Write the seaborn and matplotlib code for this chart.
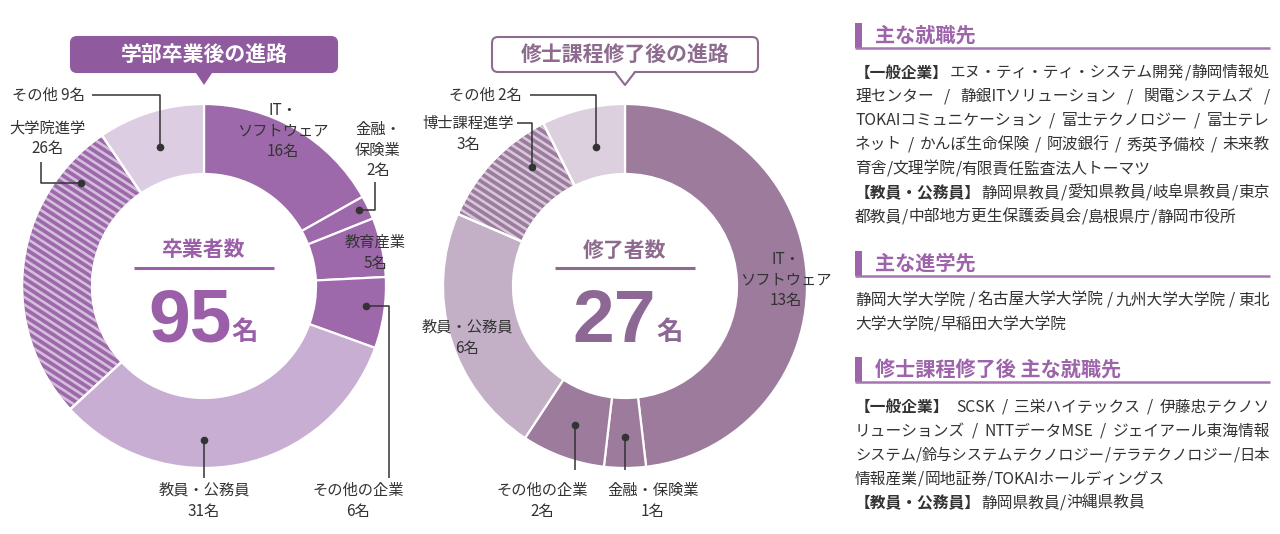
import re
import numpy as np
import matplotlib
matplotlib.use('Agg')
import matplotlib.pyplot as plt
import matplotlib.patches as mpatches
from matplotlib.collections import LineCollection
from matplotlib import font_manager
import seaborn as sns

sns.set_theme(style='white')
plt.rcParams['font.family'] = ['Noto Sans CJK JP', 'DejaVu Sans']

W, H = 1280, 534

## data
ug_labels = ['IT・\nソフトウェア', '金融・\n保険業', '教育産業', 'その他の企業', '教員・公務員', '大学院進学', 'その他']
ug_counts = [16, 2, 5, 6, 31, 26, 9]
ug_total = 95

ms_labels = ['IT・\nソフトウェア', '金融・保険業', 'その他の企業', '教員・公務員', '博士課程進学', 'その他']
ms_counts = [13, 1, 2, 6, 3, 2]
ms_total = 27

sec1_title = '主な就職先'
sec1_lines = ['【一般企業】エヌ・ティ・ティ・システム開発/静岡情報処',
              '理センター/静銀ITソリューション/関電システムズ/',
              'TOKAIコミュニケーション/富士テクノロジー/富士テレ',
              'ネット/かんぽ生命保険/阿波銀行/秀英予備校/未来教',
              '育舎/文理学院/有限責任監査法人トーマツ',
              '【教員・公務員】静岡県教員/愛知県教員/岐阜県教員/東京',
              '都教員/中部地方更生保護委員会/島根県庁/静岡市役所']
sec1_last = [4, 6]   # lines that end a paragraph (not justified)
sec2_title = '主な進学先'
sec2_lines = ['静岡大学大学院/名古屋大学大学院/九州大学大学院/東北',
              '大学大学院/早稲田大学大学院']
sec2_last = [1]
sec3_title = '修士課程修了後 主な就職先'
sec3_lines = ['【一般企業】SCSK/三栄ハイテックス/伊藤忠テクノソ',
              'リューションズ/NTTデータMSE/ジェイアール東海情報',
              'システム/鈴与システムテクノロジー/テラテクノロジー/日本',
              '情報産業/岡地証券/TOKAIホールディングス',
              '【教員・公務員】静岡県教員/沖縄県教員']
sec3_last = [3, 4]

## colours
ug_dark, ug_light, ug_pale, ug_stripe = '#9d69aa', '#c7aed2', '#ddcde3', '#d3bedc'
ms_dark, ms_light, ms_pale, ms_stripe = '#9c7b9c', '#c3b0c7', '#dcd0de', '#d6c8da'
ug_colors = [ug_dark, ug_dark, ug_dark, ug_dark, ug_light, ug_dark, ug_pale]
ms_colors = [ms_dark, ms_dark, ms_dark, ms_light, ms_dark, ms_pale]
txt_col = '#333333'
head_col = '#9d63ab'

names = {f.name for f in font_manager.fontManager.ttflist}
num_font = 'Liberation Sans Narrow' if 'Liberation Sans Narrow' in names else 'Liberation Sans'
num_size = 57 if num_font == 'Liberation Sans Narrow' else 54

R_OUT, R_IN = 182, 112

# label layout in image pixels (y down); last point of path gets the dot
ug_layout = [dict(xy=(283, 131)),
             dict(xy=(378, 150), path=[(375, 182), (375, 210), (359, 210)]),
             dict(xy=(375, 253)),
             dict(xy=(358, 501), path=[(389, 478), (389, 306), (366, 306)]),
             dict(xy=(204, 501), path=[(204, 478), (204, 440)]),
             dict(xy=(47, 138), path=[(41, 162), (41, 183), (81, 183)]),
             dict(xy=(85, 95), ha='right', path=[(92, 95), (160, 95), (160, 147)])]
ms_layout = [dict(xy=(786, 280)),
             dict(xy=(653, 501), path=[(625, 470), (625, 437)]),
             dict(xy=(542, 501), path=[(575, 470), (575, 425)]),
             dict(xy=(467, 338)),
             dict(xy=(468, 134), path=[(517, 123), (532, 123), (532, 167)]),
             dict(xy=(522, 95), ha='right', path=[(530, 95), (596, 95), (596, 147)])]


def Y(y):
    return H - y


fig = plt.figure(figsize=(W / 100, H / 100), dpi=100)
ax = fig.add_axes([0, 0, 1, 1])


def draw_donut(cx, cy, labels, counts, colors, hatch_idx, stripe_col, layout):
    wedges, _ = ax.pie(counts, colors=colors, startangle=90, counterclock=False,
                       radius=R_OUT, center=(cx, Y(cy)),
                       wedgeprops=dict(width=R_OUT - R_IN, edgecolor='white', linewidth=1.6))
    w = wedges[hatch_idx]
    ang = np.deg2rad(-33)
    d = np.array([np.cos(ang), np.sin(ang)])
    n = np.array([-d[1], d[0]])
    segs = []
    for k in range(-45, 46):
        p = np.array([cx, Y(cy)]) + k * 6.3 * n
        segs.append([p - 260 * d, p + 260 * d])
    lc = LineCollection(segs, colors=stripe_col, linewidths=1.9, zorder=w.get_zorder() + 0.1)
    ax.add_collection(lc)
    lc.set_clip_path(w)
    ax.add_patch(mpatches.Wedge(w.center, w.r, w.theta1, w.theta2, width=w.width, fill=False,
                                edgecolor='white', linewidth=1.6, zorder=w.get_zorder() + 0.2))

    for lab, cnt, lay in zip(labels, counts, layout):
        if lab == 'その他':
            s = f'{lab} {cnt}名'
        else:
            s = f'{lab}\n{cnt}名'
        x, y = lay['xy']
        ax.text(x, Y(y), s, ha=lay.get('ha', 'center'), va='center', fontsize=11,
                color=txt_col, linespacing=1.3, multialignment='center', zorder=5)
        if 'path' in lay:
            px = [p[0] for p in lay['path']]
            py = [Y(p[1]) for p in lay['path']]
            ax.plot(px, py, color=txt_col, lw=1.1, zorder=5, solid_capstyle='butt')
            ax.plot(px[-1], py[-1], 'o', color=txt_col, ms=4.5, zorder=6)


draw_donut(204, 286, ug_labels, ug_counts, ug_colors, 5, ug_stripe, ug_layout)
draw_donut(625, 286, ms_labels, ms_counts, ms_colors, 4, ms_stripe, ms_layout)

# pie() resets the limits, so fix them now (1 data unit = 1 pixel)
ax.set_xlim(0, W)
ax.set_ylim(0, H)
ax.set_aspect('auto')
ax.axis('off')


def center_block(cx, title, total, col, num_col, num_x, mei_x):
    ax.text(cx, Y(250), title, ha='center', va='center', fontsize=15, fontweight='bold', color=col)
    ax.plot([cx - 70, cx + 70], [Y(268), Y(268)], color=col, lw=2.2, solid_capstyle='butt')
    ax.text(num_x, Y(342), str(total), ha='center', va='baseline', fontsize=num_size, fontweight='bold',
            color=num_col, family=num_font)
    ax.text(mei_x, Y(340), '名', ha='center', va='baseline', fontsize=19, fontweight='bold', color=num_col)


center_block(204, '卒業者数', ug_total, '#9b5ea8', '#9b5ea8', 190, 245)
center_block(625, '修了者数', ms_total, '#8e6a8f', '#8e6895', 614, 670)


def title_box(cx, text, filled, col):
    x0, x1, y0, y1 = cx - 133, cx + 133, 37, 72
    box = mpatches.FancyBboxPatch((x0, Y(y1)), x1 - x0, y1 - y0,
                                  boxstyle='round,pad=0,rounding_size=6',
                                  facecolor=col if filled else 'white',
                                  edgecolor=col, linewidth=1.5, zorder=3)
    ax.add_patch(box)
    tri = [(cx - 10, Y(y1 - 2)), (cx + 10, Y(y1 - 2)), (cx, Y(85))]
    ax.add_patch(mpatches.Polygon(tri, closed=True, facecolor=col if filled else 'white',
                                  edgecolor='none', zorder=4))
    if not filled:
        ax.plot([cx - 10, cx, cx + 10], [Y(y1), Y(85), Y(y1)], color=col, lw=1.5, zorder=4)
    ax.text(cx, Y(55), text, ha='center', va='center', fontsize=15, fontweight='bold',
            color='white' if filled else col, zorder=5)


title_box(204, '学部卒業後の進路', True, '#905a9f')
title_box(625, '修士課程修了後の進路', False, '#8d6b8f')

## right side list (lines justified between LX and RX by spreading the space round the slashes)
renderer = fig.canvas.get_renderer()
LX, RX = 855, 1270
body_size = 11.3


def width_of(s, size, bold=False):
    t = ax.text(0, 0, s, fontsize=size, fontweight='bold' if bold else 'normal')
    w = t.get_window_extent(renderer).width
    t.remove()
    return w


def section(title, lines, last, y_head, y_first, step=24.1):
    ax.add_patch(mpatches.Rectangle((LX, Y(y_head + 13)), 7, 25, facecolor=head_col, edgecolor='none'))
    ax.plot([LX, RX], [Y(y_head + 13), Y(y_head + 13)], color='#a874b4', lw=1.8, solid_capstyle='butt')
    ax.text(LX + 20, Y(y_head), title, ha='left', va='center', fontsize=14.5, fontweight='bold',
            color=head_col)
    for i, line in enumerate(lines):
        y = Y(y_first + i * step)
        chunks = []
        if line.startswith('【'):
            head, line = line.split('】', 1)
            chunks.append((head + '】', True))
        chunks += [(c, False) for c in re.split(r'(/)', line) if c]
        size = body_size
        widths = [width_of(c, size, b) for c, b in chunks]
        if sum(widths) > RX - LX:
            size = body_size * (RX - LX) / sum(widths)
            widths = [width_of(c, size, b) for c, b in chunks]
        gap = 0.0
        if i not in last and len(chunks) > 1:
            gap = (RX - LX - sum(widths)) / (len(chunks) - 1)
        x = LX
        for (c, b), w in zip(chunks, widths):
            ax.text(x, y, c, ha='left', va='center', fontsize=size,
                    fontweight='bold' if b else 'normal', color=txt_col)
            x += w + gap


section(sec1_title, sec1_lines, sec1_last, 35, 72.5)
section(sec2_title, sec2_lines, sec2_last, 263, 300)
section(sec3_title, sec3_lines, sec3_last, 369, 407)

fig.savefig('out.png', dpi=100, facecolor='white')
